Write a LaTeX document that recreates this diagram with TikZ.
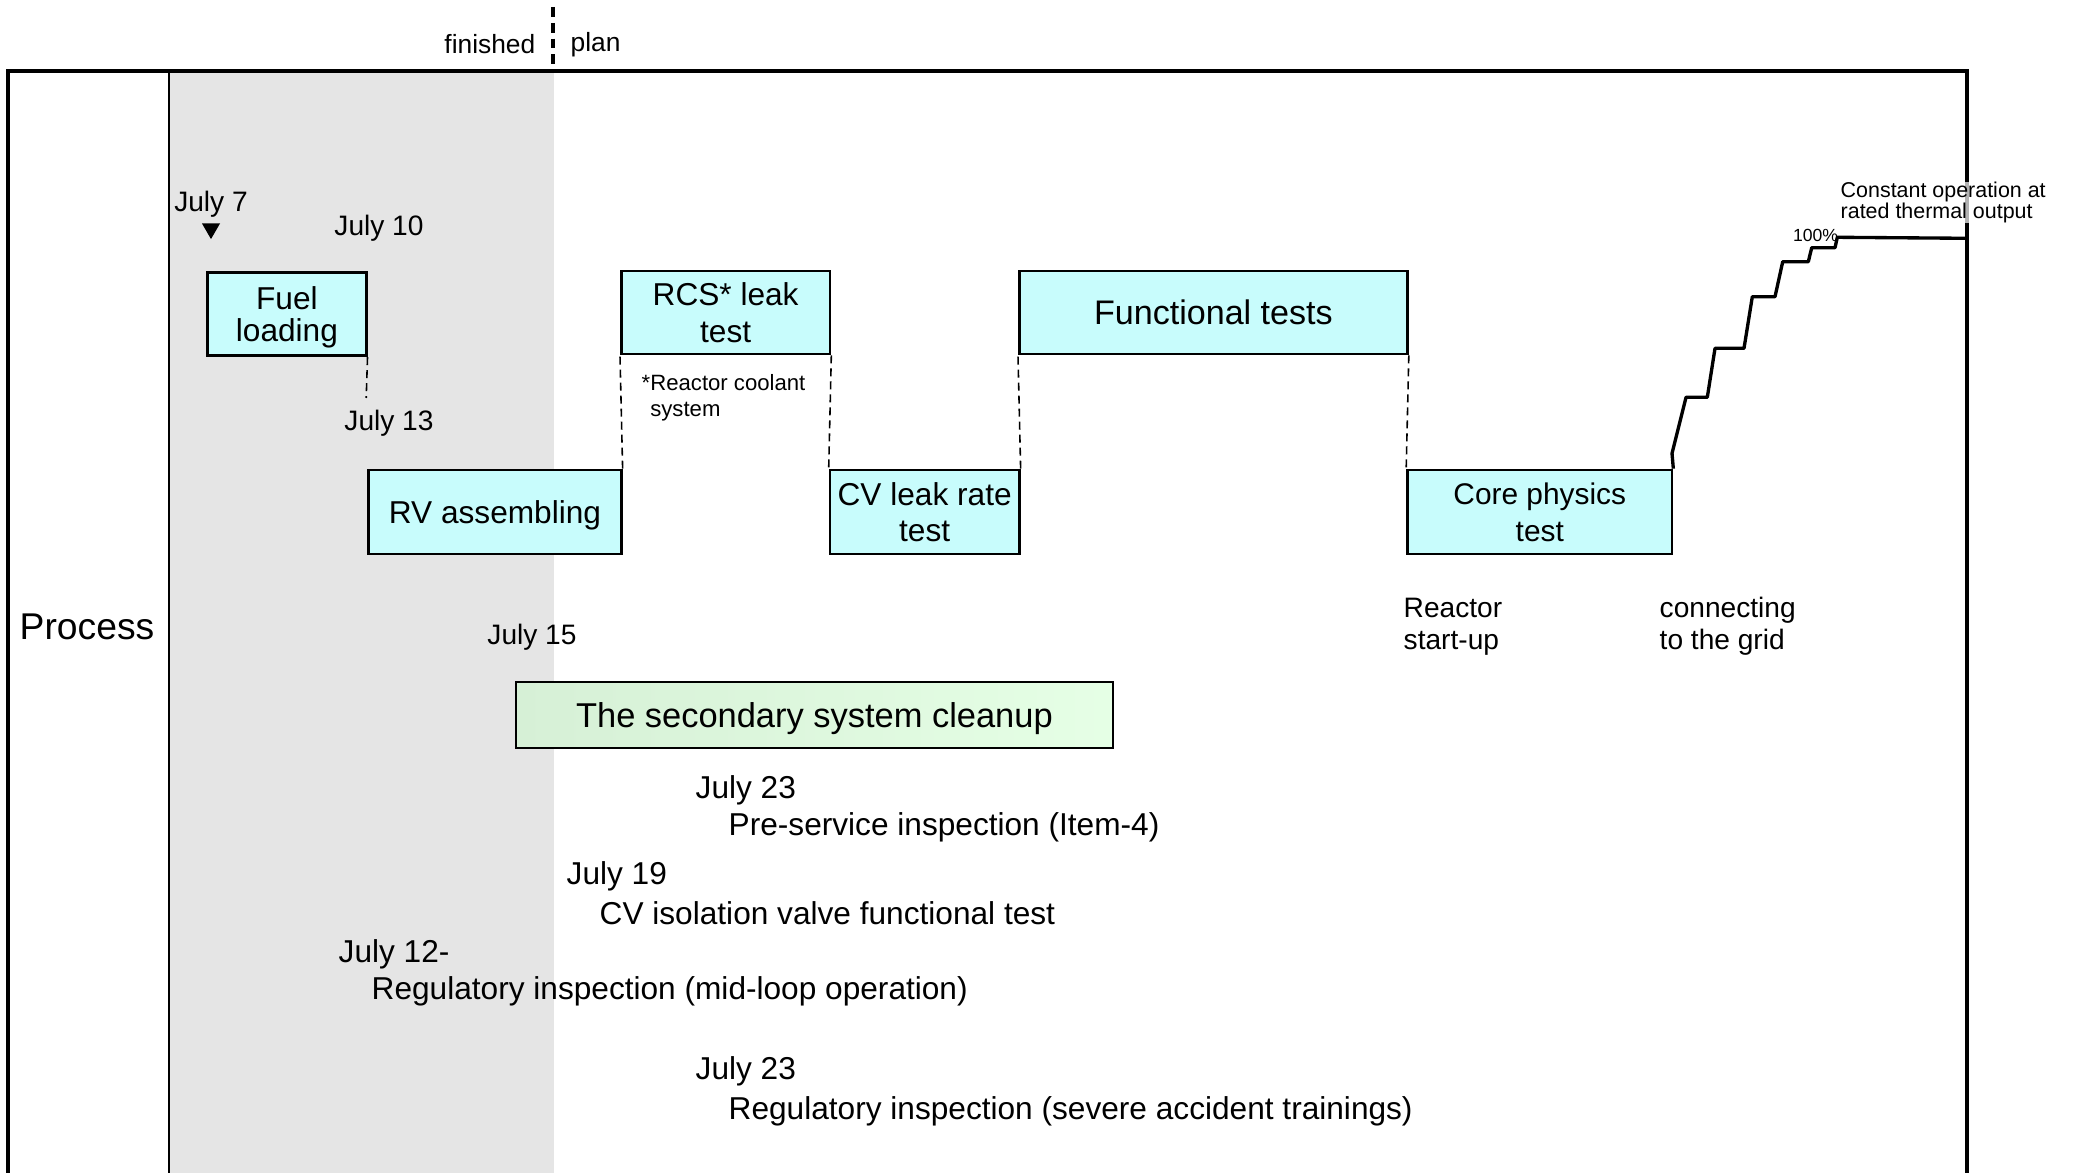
\documentclass[tikz,border=0pt]{standalone}
\usepackage{fontspec}
\setmainfont{Liberation Sans}
\usepackage{tikz}
\usetikzlibrary{positioning,shapes.geometric}
\definecolor{boxcyan}{RGB}{200,252,252}
\definecolor{boxgreen}{RGB}{214,240,214}
\definecolor{donegray}{RGB}{229,229,229}
\newcommand{\fsz}[2]{\fontsize{#1}{#2}\selectfont}
\newcommand{\when}[1]{\fsz{8}{9}#1}

\begin{document}
\begin{tikzpicture}[
  stepbox/.style={draw, line width=0.75pt, left color=boxcyan, middle color=white,
    right color=boxcyan, align=center, inner sep=0pt, text depth=0pt, font=\fsz{9}{10.5}},
  cleanbox/.style={draw, line width=0.5pt, left color=boxgreen, middle color=green!3,
    right color=green!10, inner sep=0pt, text depth=0pt, font=\fsz{9.8}{11}},
  lbl/.style={inner sep=0pt, anchor=west, align=left, yshift=-0.03cm},
  guide/.style={dash pattern=on 2.3pt off 1.4pt, line width=0.45pt},
  ramp/.style={line width=0.95pt, line join=round}]

  \useasboundingbox (0,0) rectangle (20.73,-11.73);

  \fill[donegray] (1.69,-0.71) rectangle (5.54,-11.73);
  \draw[line width=0.5pt] (1.69,-0.71) -- (1.69,-11.73);
  \draw[line width=1.1pt] (0.08,-11.73) -- (0.08,-0.71) -- (19.67,-0.71) -- (19.67,-11.73);

  \coordinate (divtop) at (5.53,-0.07);
  \coordinate (divbot) at (5.53,-0.69);
  \draw[line width=1.1pt, dash pattern=on 2.8pt off 1.7pt] (divtop) -- (divbot);
  \node (finished) [inner sep=0pt, anchor=east] at (5.36,-0.44) {\fsz{7.5}{9}finished};
  \node (plan) [inner sep=0pt, anchor=west] at (5.70,-0.45) {\fsz{7.5}{9}plan};

  \node (process) at (0.87,-6.27) {\fsz{10.6}{12}Process};

  \node (fuel) [stepbox, minimum width=1.586cm, minimum height=0.835cm,
    font=\fsz{9}{9.3}] at (2.869,-3.14) {Fuel\\loading};
  \node (rv) [stepbox, minimum width=2.526cm, minimum height=0.84cm] at (4.95,-5.12) {RV assembling};
  \node (rcs) [stepbox, minimum width=2.087cm, minimum height=0.83cm] at (7.2565,-3.125) {RCS* leak\\test};
  \node (cvleak) [stepbox, minimum width=1.893cm, minimum height=0.84cm] at (9.2465,-5.12) {CV leak rate\\test};
  \node (func) [stepbox, minimum width=3.882cm, minimum height=0.83cm,
    font=\fsz{9.7}{11}] at (12.134,-3.125) {Functional tests};
  \node (core) [stepbox, minimum width=2.645cm, minimum height=0.84cm,
    font=\fsz{8.5}{10.5}] at (15.3975,-5.12) {Core physics\\test};
  \node (sec) [cleanbox, minimum width=5.975cm, minimum height=0.66cm] at (8.144,-7.15) {The secondary system cleanup};

  \node (mark7) [regular polygon, regular polygon sides=3, shape border rotate=180,
    fill, inner sep=0pt, minimum size=0.21cm] at (2.11,-2.286) {};
  \node (july7) [inner sep=0pt, above=0.05cm of mark7] {\when{July 7}};
  \node (july10) [inner sep=0pt] at (3.79,-2.28) {\when{July 10}};
  \node (july13) [inner sep=0pt] at (3.89,-4.23) {\when{July 13}};
  \node (july15) [inner sep=0pt] at (5.32,-6.37) {\when{July 15}};

  \coordinate (fuelend) at (3.662,-3.98);
  \draw[guide] (fuel.south east) -- (fuelend);
  \draw[guide] (rv.north east) -- (rcs.south west);
  \draw[guide] (rcs.south east) -- (cvleak.north west);
  \draw[guide] (cvleak.north east) -- (func.south west);
  \draw[guide] (func.south east) -- (core.north west);

  \node (rcsnote) [lbl, font=\fsz{6.3}{7.4}] at (6.41,-3.95) {*Reactor coolant\\\hphantom{*}system};
  \node (startup) [lbl, font=\fsz{8}{9.1}] at (14.03,-6.24) {Reactor\\start-up};
  \node (grid) [lbl, font=\fsz{8}{9.1}] at (16.59,-6.23) {connecting\\to the grid};

  \coordinate (ratedend) at (19.67,-2.383);
  \draw[ramp] (core.north east) -- (16.72,-4.533) -- (16.86,-3.973) -- (17.073,-3.973)
    -- (17.15,-3.483) -- (17.44,-3.483) -- (17.523,-2.967) -- (17.75,-2.967)
    -- (17.827,-2.617) -- (18.083,-2.617) -- (18.117,-2.477) -- (18.35,-2.477)
    -- (18.373,-2.373) -- (ratedend);
  \node (full) [inner sep=0pt] at (18.155,-2.35) {\fsz{5}{6}100\%};
  \node (rated) [lbl, font=\fsz{6.1}{6.1}, fill=white, fill opacity=0.7, text opacity=1]
    at (18.40,-1.995) {Constant operation at\\rated thermal output};

  \node (psidate) [lbl, font=\fsz{9}{10}] at (6.95,-7.87) {July 23};
  \node (psi) [lbl, font=\fsz{9}{10}] at (7.28,-8.24) {Pre-service inspection (Item-4)};
  \node (cvivdate) [lbl, font=\fsz{9}{10}] at (5.66,-8.73) {July 19};
  \node (cviv) [lbl, font=\fsz{9}{10}] at (5.99,-9.10) {CV isolation valve functional test};
  \node (midloopdate) [lbl, font=\fsz{9}{10}] at (3.38,-9.51) {July 12-};
  \node (midloop) [lbl, font=\fsz{9}{10}] at (3.71,-9.88) {Regulatory inspection (mid-loop operation)};
  \node (sadate) [lbl, font=\fsz{9}{10}] at (6.95,-10.68) {July 23};
  \node (sa) [lbl, font=\fsz{9}{10}] at (7.28,-11.08) {Regulatory inspection (severe accident trainings)};

\end{tikzpicture}
\end{document}
